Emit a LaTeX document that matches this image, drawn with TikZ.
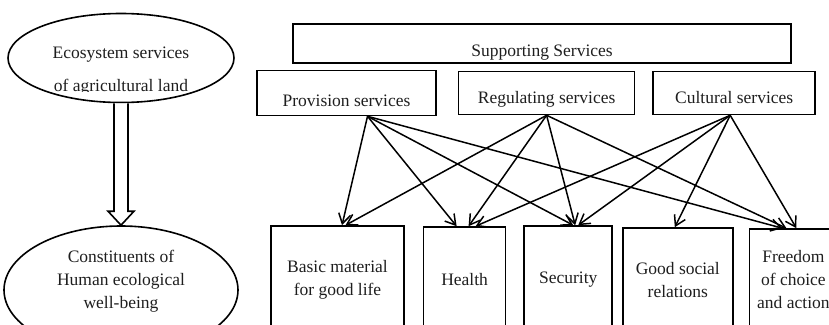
\documentclass[tikz,border=0pt]{standalone}
\usepackage{fontspec}
\setmainfont{Liberation Serif}
\usepackage{tikz}
\usetikzlibrary{shapes.geometric,arrows.meta,positioning}
\definecolor{inkGray}{RGB}{30,30,30}

\begin{document}
\begin{tikzpicture}[x=1pt,y=-1pt,
  svc/.style={draw,line width=1.6pt,inner sep=2pt,text depth=4pt,font=\fontsize{17.5}{22}\selectfont,text=inkGray},
  wellbox/.style={draw,line width=1.6pt,align=center,font=\fontsize{17.5}{23}\selectfont,text=inkGray},
  bubble/.style={draw,ellipse,line width=1.6pt},
  bubtext/.style={align=center,font=\fontsize{17.5}{23}\selectfont,text=inkGray},
  arrow/.style={-{Straight Barb[length=10pt,width=12pt]},line width=1.5pt}
]
\useasboundingbox (0,0) rectangle (829,324);
\clip (0,0) rectangle (829,324);

% left: the two ellipses and the hollow arrow
\node[bubble,minimum width=226pt,minimum height=89pt] (eco) at (121,58) {};
\node[bubble,minimum width=234pt,minimum height=128pt] (hum) at (121,290) {};
\begin{scope}
  \clip (0,0) rectangle (260,91.5);
  \node[bubtext] (ecotxt) at (121,71) {Ecosystem services\\[10pt]of agricultural land};
\end{scope}
\node[bubtext] (humtxt) at (121,281) {Constituents of\\Human ecological\\well-being};
\draw[line width=1.6pt,fill=white] ([xshift=-7pt]eco.south) -- ([xshift=-7pt,yshift=14pt]hum.north)
  -- ([xshift=-13pt,yshift=14pt]hum.north) -- (hum.north) -- ([xshift=13pt,yshift=14pt]hum.north)
  -- ([xshift=7pt,yshift=14pt]hum.north) -- ([xshift=7pt]eco.south);

% services
\node[svc,minimum width=498pt,minimum height=39pt,text height=29pt] (sup) at (542,43.5) {Supporting Services};
\node[svc,minimum width=179pt,minimum height=45pt,text height=31pt] (prov) at (346.5,93) {Provision services};
\node[svc,minimum width=176pt,minimum height=43pt,text height=25pt,right=21pt of prov] (reg) {Regulating services};
\node[svc,minimum width=162pt,minimum height=43pt,text height=25pt,right=17pt of reg] (cult) {Cultural services};

% well-being
\node[wellbox,minimum width=133pt,minimum height=108pt] (basic) at (337.5,280) {Basic material\\for good life};
\node[wellbox,minimum width=82pt,minimum height=106pt,right=18pt of basic] (health) {Health};
\node[wellbox,minimum width=88pt,minimum height=108pt,right=17pt of health] (secur) {Security};
\node[wellbox,minimum width=110pt,minimum height=104pt,right=9pt of secur] (social) {Good social\\relations};
\node[wellbox,minimum width=88pt,minimum height=102pt,right=15pt of social] (freedom) {Freedom\\of choice\\and action};

\draw[arrow] ([xshift=21pt]prov.south) -- ([xshift=4.5pt]basic.north);
\draw[arrow] ([xshift=21pt]prov.south) -- ([xshift=-8pt]health.north);
\draw[arrow] ([xshift=21pt]prov.south) -- ([xshift=5pt]secur.north);
\draw[arrow] ([xshift=21pt]prov.south) -- ([xshift=-11pt]freedom.north);
\draw[arrow] (reg.south) -- ([xshift=8pt]basic.north);
\draw[arrow] (reg.south) -- ([xshift=4pt]health.north);
\draw[arrow] (reg.south) -- ([xshift=7pt]secur.north);
\draw[arrow] (reg.south) -- ([xshift=-7pt]freedom.north);
\draw[arrow] ([xshift=-4pt]cult.south) -- ([xshift=11pt]health.north);
\draw[arrow] ([xshift=-4pt]cult.south) -- ([xshift=10pt]secur.north);
\draw[arrow] ([xshift=-4pt]cult.south) -- ([xshift=-3pt]social.north);
\draw[arrow] ([xshift=-4pt]cult.south) -- ([xshift=3pt]freedom.north);
\end{tikzpicture}
\end{document}
